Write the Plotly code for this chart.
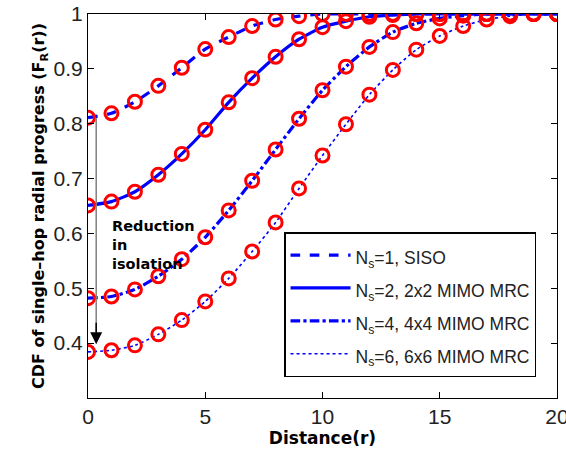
import plotly.graph_objects as go

# Distance samples (markers at every integer distance)
distance = list(range(0, 21))

# CDF of single-hop radial progress for each antenna configuration
cdf_siso = [0.811, 0.819, 0.840, 0.869, 0.902, 0.936, 0.958, 0.978, 0.990, 0.996,
            1.0, 1.0, 1.0, 1.0, 1.0, 1.0, 1.0, 1.0, 1.0, 1.0, 1.0]
cdf_2x2 = [0.651, 0.658, 0.676, 0.707, 0.745, 0.789, 0.839, 0.883, 0.922, 0.954,
           0.976, 0.987, 0.995, 0.998, 1.0, 1.0, 1.0, 1.0, 1.0, 1.0, 1.0]
cdf_4x4 = [0.482, 0.485, 0.498, 0.522, 0.553, 0.593, 0.642, 0.696, 0.753, 0.809,
           0.861, 0.904, 0.940, 0.967, 0.983, 0.992, 0.997, 1.0, 1.0, 1.0, 1.0]
cdf_6x6 = [0.384, 0.387, 0.396, 0.416, 0.442, 0.476, 0.518, 0.567, 0.620, 0.682,
           0.742, 0.799, 0.853, 0.898, 0.935, 0.960, 0.978, 0.990, 0.996, 1.0, 1.0]

series_names = ["N<sub>s</sub>=1, SISO", "N<sub>s</sub>=2, 2x2 MIMO MRC",
                "N<sub>s</sub>=4, 4x4 MIMO MRC", "N<sub>s</sub>=6, 6x6 MIMO MRC"]
series_values = [cdf_siso, cdf_2x2, cdf_4x4, cdf_6x6]
dash_styles = ["dash", "solid", "dashdot", "dot"]
line_widths = [3.2, 3.2, 3.2, 1.6]

TICK_FONT = "Liberation Sans"
BOLD_FONT = "DejaVu Sans"
BLUE = "#0000ff"
RED = "#ff0000"

fig = go.Figure()

# legend rows are sized from the legend font; the label itself is drawn smaller
for name, vals, dash, lw in zip(series_names, series_values, dash_styles, line_widths):
    fig.add_trace(go.Scatter(
        x=distance, y=vals, mode="lines",
        name="<span style='font-size:17.5px'>" + name + "</span>",
        line=dict(color=BLUE, width=lw, dash=dash, shape="spline", smoothing=0.6),
    ))

for vals in series_values:
    fig.add_trace(go.Scatter(
        x=distance, y=vals, mode="markers", showlegend=False, hoverinfo="skip",
        marker=dict(symbol="circle-open", size=13, color=RED, line=dict(color=RED, width=3)),
    ))

# Arrow showing the drop in isolation probability at r = 0
fig.add_shape(type="line", xref="x", yref="y", x0=0.35, x1=0.35, y0=cdf_siso[0], y1=0.42,
              line=dict(color="#808080", width=1.5))
fig.add_annotation(x=0.35, y=0.398, ax=0.35, ay=0.44, xref="x", yref="y", axref="x", ayref="y",
                   text="", showarrow=True, arrowhead=2, arrowsize=1.6, arrowwidth=1.5,
                   arrowcolor="black")
fig.add_annotation(x=0.93, y=0.632, xref="x", yref="y", xanchor="left", yanchor="top",
                   text="<b>Reduction<br>in<br>isolation</b>", showarrow=False, align="left",
                   font=dict(family=BOLD_FONT, size=14.5, color="black"))

axis_common = dict(
    showline=True, linecolor="black", linewidth=1.2, mirror="ticks",
    ticks="inside", ticklen=6, tickcolor="black", tickwidth=1,
    showgrid=False, zeroline=False, ticklabeloverflow="allow", automargin=False,
    tickfont=dict(family=TICK_FONT, size=21, color="#222222"),
)

fig.update_xaxes(range=[0, 20], tickvals=[0, 5, 10, 15, 20],
                 title=dict(text="<b>Distance(r)</b>", font=dict(family=BOLD_FONT, size=17, color="black"),
                            standoff=4),
                 **axis_common)
fig.update_yaxes(range=[0.3, 1.0], tickvals=[0.4, 0.5, 0.6, 0.7, 0.8, 0.9, 1.0],
                 ticktext=["0.4", "0.5", "0.6", "0.7", "0.8", "0.9", "1"],
                 title=dict(text="<b>CDF of single\u2013hop radial progress (F<sub>R</sub>(r))</b>",
                            font=dict(family=BOLD_FONT, size=16, color="black"), standoff=4),
                 **axis_common)

fig.update_layout(
    width=566, height=459,
    margin=dict(l=88, r=9, t=14, b=61),
    plot_bgcolor="white", paper_bgcolor="white",
    legend=dict(x=0.418, y=0.432, xanchor="left", yanchor="top",
                bgcolor="white", bordercolor="black", borderwidth=1.5,
                font=dict(family=TICK_FONT, size=23, color="#222222"),
                itemwidth=60, tracegroupgap=0),
    showlegend=True,
)

fig.write_html("out.html")
